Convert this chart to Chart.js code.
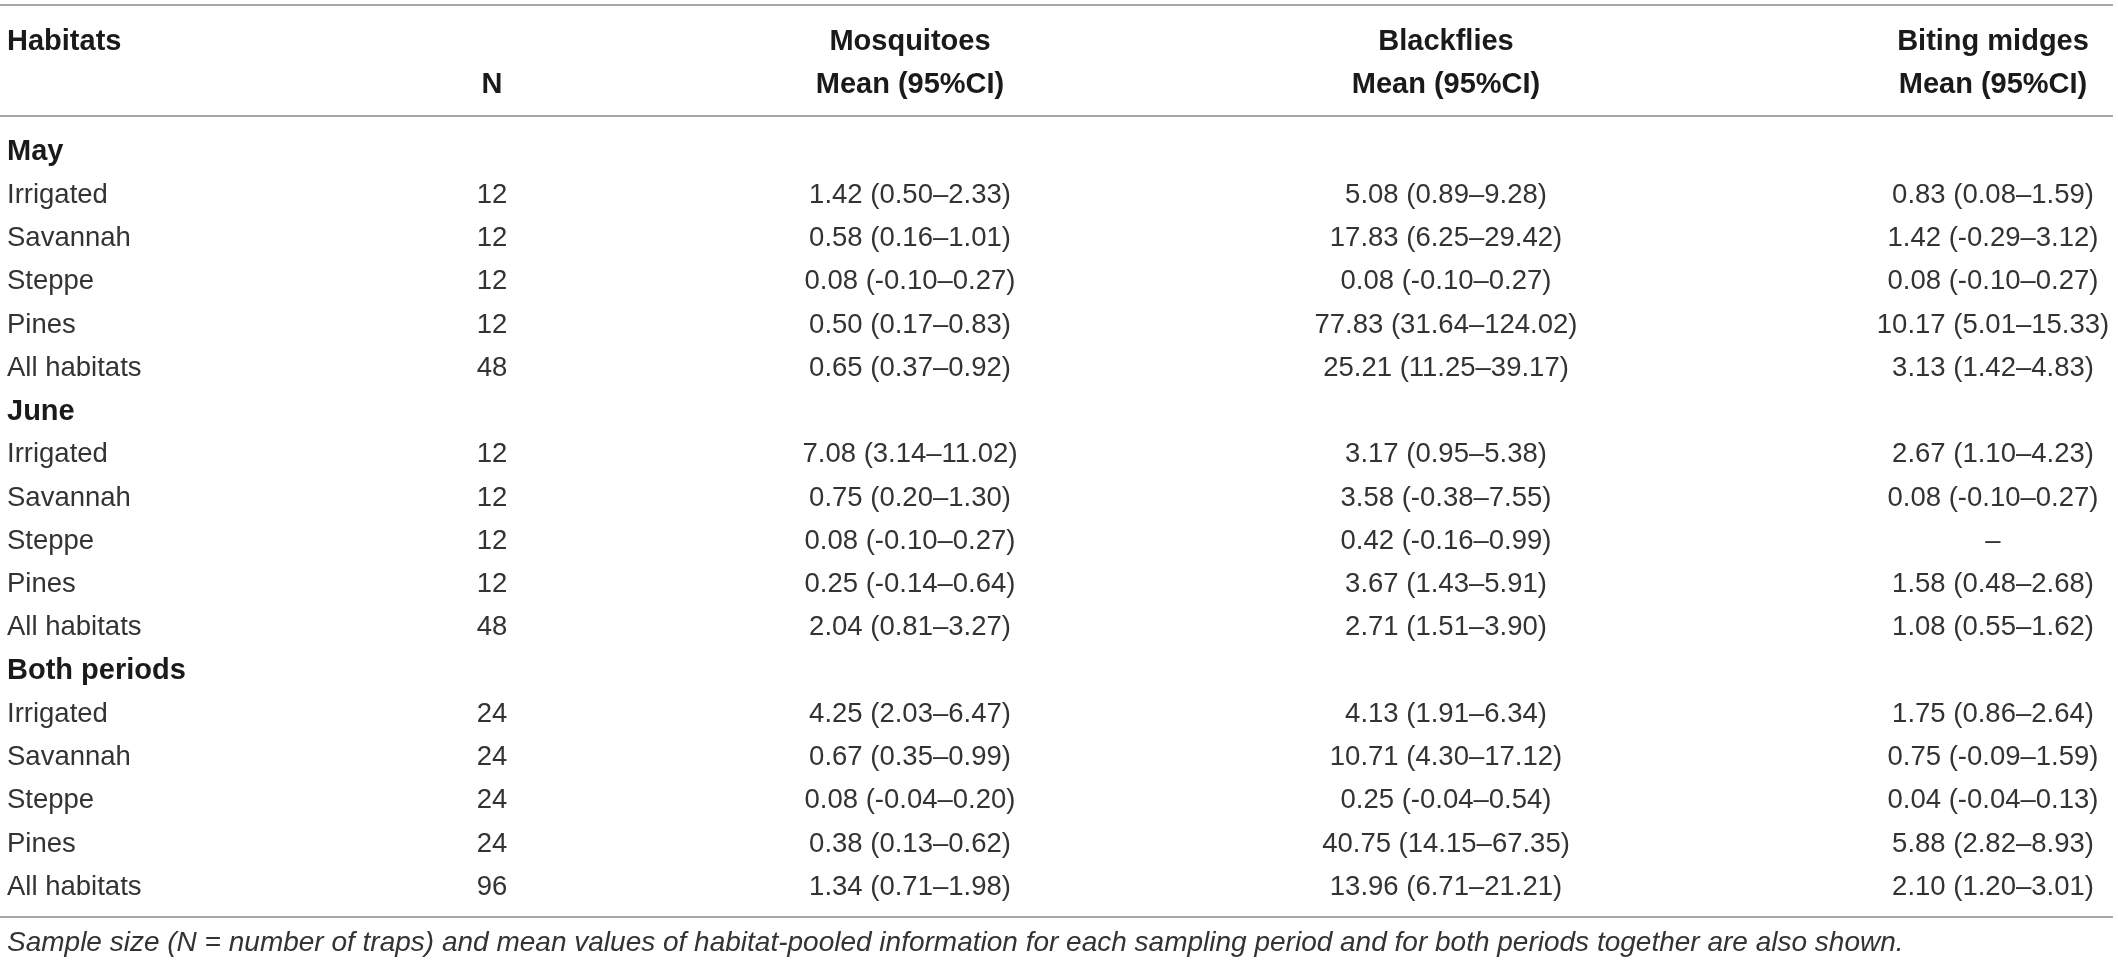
<!DOCTYPE html>
<html>
<head>
<meta charset="utf-8">
<title>Habitats table</title>
<script src="https://cdn.jsdelivr.net/npm/chart.js@4.4.1/dist/chart.umd.min.js"></script>
<style>
  html, body { margin: 0; padding: 0; background: #fff; }
  #wrap { width: 2118px; height: 965px; }
</style>
</head>
<body>
<div id="wrap"><canvas id="tableChart" width="2118" height="965"></canvas></div>
<script>
// Table data (one entry per row, null = group header / no value)
const rowLabels = ['May', 'Irrigated', 'Savannah', 'Steppe', 'Pines', 'All habitats',
  'June', 'Irrigated', 'Savannah', 'Steppe', 'Pines', 'All habitats',
  'Both periods', 'Irrigated', 'Savannah', 'Steppe', 'Pines', 'All habitats'];
const groupRows = [0, 6, 12];

const nTraps = [null, 12, 12, 12, 12, 48, null, 12, 12, 12, 12, 48, null, 24, 24, 24, 24, 96];

const mosqMean = [null, 1.42, 0.58, 0.08, 0.50, 0.65, null, 7.08, 0.75, 0.08, 0.25, 2.04, null, 4.25, 0.67, 0.08, 0.38, 1.34];
const mosqLow  = [null, 0.50, 0.16, -0.10, 0.17, 0.37, null, 3.14, 0.20, -0.10, -0.14, 0.81, null, 2.03, 0.35, -0.04, 0.13, 0.71];
const mosqHigh = [null, 2.33, 1.01, 0.27, 0.83, 0.92, null, 11.02, 1.30, 0.27, 0.64, 3.27, null, 6.47, 0.99, 0.20, 0.62, 1.98];

const blackMean = [null, 5.08, 17.83, 0.08, 77.83, 25.21, null, 3.17, 3.58, 0.42, 3.67, 2.71, null, 4.13, 10.71, 0.25, 40.75, 13.96];
const blackLow  = [null, 0.89, 6.25, -0.10, 31.64, 11.25, null, 0.95, -0.38, -0.16, 1.43, 1.51, null, 1.91, 4.30, -0.04, 14.15, 6.71];
const blackHigh = [null, 9.28, 29.42, 0.27, 124.02, 39.17, null, 5.38, 7.55, 0.99, 5.91, 3.90, null, 6.34, 17.12, 0.54, 67.35, 21.21];

const midgeMean = [null, 0.83, 1.42, 0.08, 10.17, 3.13, null, 2.67, 0.08, null, 1.58, 1.08, null, 1.75, 0.75, 0.04, 5.88, 2.10];
const midgeLow  = [null, 0.08, -0.29, -0.10, 5.01, 1.42, null, 1.10, -0.10, null, 0.48, 0.55, null, 0.86, -0.09, -0.04, 2.82, 1.20];
const midgeHigh = [null, 1.59, 3.12, 0.27, 15.33, 4.83, null, 4.23, 0.27, null, 2.68, 1.62, null, 2.64, 1.59, 0.13, 8.93, 3.01];

const headerTop = ['Habitats', '', 'Mosquitoes', 'Blackflies', 'Biting midges'];
const headerBottom = ['', 'N', 'Mean (95%CI)', 'Mean (95%CI)', 'Mean (95%CI)'];
const caption = 'Sample size (N = number of traps) and mean values of habitat-pooled information for each sampling period and for both periods together are also shown.';

// Layout (pixels of the 2118x965 page)
const W = 2118, H = 965;
const colAnchor = [7, 492, 910, 1446, 1993];
const firstRowPx = 152, rowStep = 43.25;
const pxToRow = px => (px - firstRowPx) / rowStep;
const headerRows = [pxToRow(42), pxToRow(85)];
const ruleRows = [pxToRow(5), pxToRow(116), pxToRow(917)];
const captionRow = pxToRow(943);

const FONT = '"Liberation Sans", Arial, Helvetica, sans-serif';

function fmtCI(m, lo, hi) {
  if (m === null) return '–';
  return m.toFixed(2) + ' (' + lo.toFixed(2) + '–' + hi.toFixed(2) + ')';
}

const cellText = [
  rowLabels,
  nTraps.map(v => v === null ? '' : String(v)),
  mosqMean.map((m, i) => groupRows.includes(i) ? '' : fmtCI(m, mosqLow[i], mosqHigh[i])),
  blackMean.map((m, i) => groupRows.includes(i) ? '' : fmtCI(m, blackLow[i], blackHigh[i])),
  midgeMean.map((m, i) => groupRows.includes(i) ? '' : fmtCI(m, midgeLow[i], midgeHigh[i]))
];

const datasets = cellText.map((col, c) => ({
  label: headerTop[c] || headerBottom[c],
  data: col.map((t, r) => ({ x: colAnchor[c], y: r })),
  pointRadius: 0,
  pointHoverRadius: 0
}));

const tableText = {
  id: 'tableText',
  afterDatasetsDraw(chart) {
    const ctx = chart.ctx;
    const xs = chart.scales.x, ys = chart.scales.y;
    ctx.save();
    ctx.textBaseline = 'middle';

    // body cells, placed at each point element
    chart.data.datasets.forEach((ds, c) => {
      const meta = chart.getDatasetMeta(c);
      meta.data.forEach((el, r) => {
        const txt = cellText[c][r];
        if (!txt) return;
        const bold = c === 0 && groupRows.includes(r);
        ctx.font = (bold ? 'bold 29px ' : '27.5px ') + FONT;
        ctx.fillStyle = bold ? '#1a1a1a' : '#333333';
        ctx.textAlign = c === 0 ? 'left' : 'center';
        ctx.fillText(txt, el.x, el.y);
      });
    });

    // column headers
    ctx.font = 'bold 29px ' + FONT;
    ctx.fillStyle = '#1a1a1a';
    [headerTop, headerBottom].forEach((row, h) => {
      row.forEach((txt, c) => {
        if (!txt) return;
        ctx.textAlign = c === 0 ? 'left' : 'center';
        ctx.fillText(txt, xs.getPixelForValue(colAnchor[c]), ys.getPixelForValue(headerRows[h]));
      });
    });

    // caption
    ctx.font = 'italic 28px ' + FONT;
    ctx.fillStyle = '#333333';
    ctx.textAlign = 'left';
    ctx.fillText(caption, xs.getPixelForValue(colAnchor[0]), ys.getPixelForValue(captionRow));
    ctx.restore();
  }
};

new Chart(document.getElementById('tableChart'), {
  type: 'scatter',
  data: { datasets: datasets },
  options: {
    responsive: false,
    animation: false,
    devicePixelRatio: 1,
    layout: { padding: { left: 0, right: 5, top: 0, bottom: 0 } },
    plugins: { legend: { display: false }, tooltip: { enabled: false } },
    scales: {
      x: { type: 'linear', display: false, min: 0, max: W - 5 },
      y: {
        type: 'linear',
        reverse: true,
        min: pxToRow(0),
        max: pxToRow(H),
        afterBuildTicks: scale => { scale.ticks = ruleRows.map(v => ({ value: v })); },
        ticks: { display: false },
        border: { display: false },
        grid: { color: '#a6a6a6', lineWidth: 2, drawTicks: false }
      }
    }
  },
  plugins: [tableText]
});
</script>
</body>
</html>
